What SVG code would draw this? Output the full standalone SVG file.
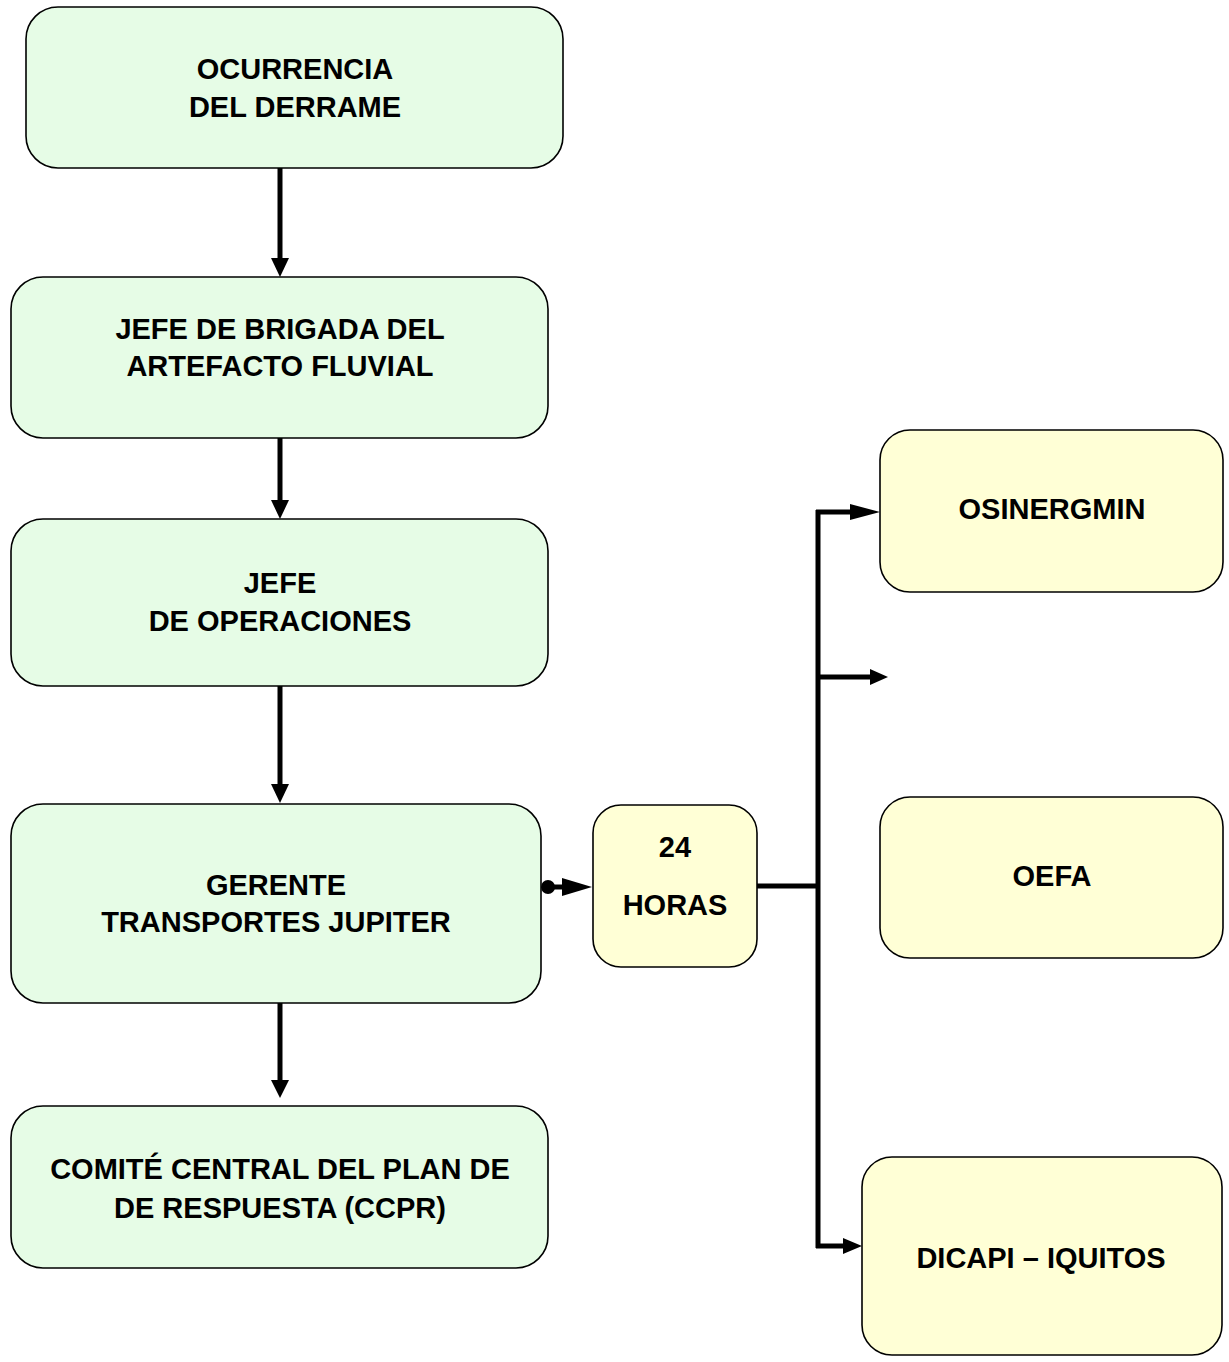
<svg xmlns="http://www.w3.org/2000/svg" width="1229" height="1362" viewBox="0 0 1229 1362">
<style>
.g{fill:#E6FCE6;stroke:#000;stroke-width:1.6}
.y{fill:#FFFFD6;stroke:#000;stroke-width:1.6}
.t{font-family:"Liberation Sans",Arial,sans-serif;font-weight:bold;font-size:29px;fill:#000;text-anchor:middle}
.c{fill:none;stroke:#000;stroke-width:5}
</style>
<rect width="1229" height="1362" fill="#fff"/>
<g id="connectors">
<line class="c" x1="280" y1="162" x2="280" y2="258"/>
<path d="M271,258 L289,258 L280,277 Z"/>
<line class="c" x1="280" y1="438" x2="280" y2="500"/>
<path d="M271,500 L289,500 L280,519 Z"/>
<line class="c" x1="280" y1="680" x2="280" y2="784"/>
<path d="M271,784 L289,784 L280,803 Z"/>
<line class="c" x1="280" y1="1003" x2="280" y2="1080"/>
<path d="M271,1080 L289,1080 L280,1098 Z"/>
<circle cx="548" cy="887" r="7"/>
<line class="c" x1="548" y1="887" x2="565" y2="887"/>
<path d="M562,878 L592,887 L562,896 Z"/>
<path class="c" d="M757,886 H818"/>
<line class="c" x1="818" y1="510" x2="818" y2="1248"/>
<line class="c" x1="816" y1="512" x2="852" y2="512"/>
<path d="M850,504 L880,512 L850,520 Z"/>
<line class="c" x1="816" y1="677" x2="872" y2="677"/>
<path d="M870,669 L888,677 L870,685 Z"/>
<line class="c" x1="816" y1="1246" x2="846" y2="1246"/>
<path d="M843,1238 L862,1246 L843,1254 Z"/>
</g>
<g id="n1"><rect class="g" x="26" y="7" width="537" height="161" rx="32"/>
<text class="t" x="295" y="79">OCURRENCIA</text><text class="t" x="295" y="117">DEL DERRAME</text></g>
<g id="n2"><rect class="g" x="11" y="277" width="537" height="161" rx="32"/>
<text class="t" x="280" y="339">JEFE DE BRIGADA DEL</text><text class="t" x="280" y="376">ARTEFACTO FLUVIAL</text></g>
<g id="n3"><rect class="g" x="11" y="519" width="537" height="167" rx="32"/>
<text class="t" x="280" y="593">JEFE</text><text class="t" x="280" y="631">DE OPERACIONES</text></g>
<g id="n4"><rect class="g" x="11" y="804" width="530" height="199" rx="32"/>
<text class="t" x="276" y="895">GERENTE</text><text class="t" x="276" y="932">TRANSPORTES JUPITER</text></g>
<g id="n5"><rect class="g" x="11" y="1106" width="537" height="162" rx="32"/>
<text class="t" x="280" y="1179">COMITÉ CENTRAL DEL PLAN DE</text><text class="t" x="280" y="1218">DE RESPUESTA (CCPR)</text></g>
<g id="n6"><rect class="y" x="593" y="805" width="164" height="162" rx="28"/>
<text class="t" x="675" y="857">24</text><text class="t" x="675" y="915">HORAS</text></g>
<g id="n7"><rect class="y" x="880" y="430" width="343" height="162" rx="30"/>
<text class="t" x="1052" y="519">OSINERGMIN</text></g>
<g id="n8"><rect class="y" x="880" y="797" width="343" height="161" rx="30"/>
<text class="t" x="1052" y="886">OEFA</text></g>
<g id="n9"><rect class="y" x="862" y="1157" width="360" height="198" rx="30"/>
<text class="t" x="1041" y="1268">DICAPI – IQUITOS</text></g>
</svg>
